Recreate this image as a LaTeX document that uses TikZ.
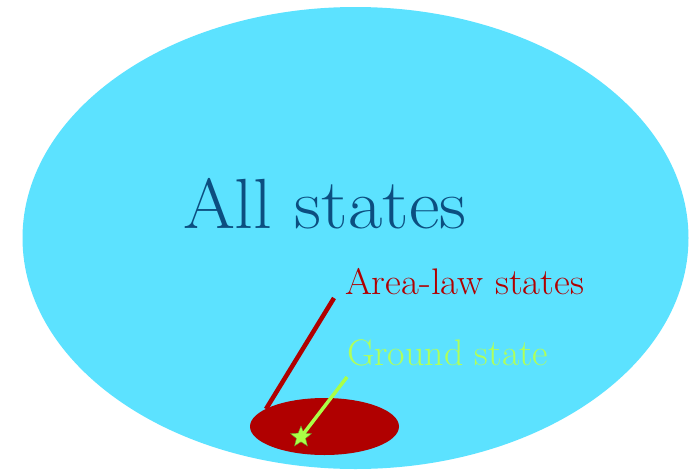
\documentclass[tikz,border=0pt]{standalone}
\usepackage{graphicx}
\usetikzlibrary{shapes.geometric}
\definecolor{bigcyan}{RGB}{92,226,255}
\definecolor{deepblue}{RGB}{12,78,128}
\definecolor{areared}{RGB}{176,0,0}
\definecolor{groundgreen}{RGB}{176,255,90}
\definecolor{stargreen}{RGB}{170,255,70}
\tikzset{
  label text/.style={anchor=base west, inner sep=0pt, outer sep=0pt},
  pointer/.style={line width=4.5pt},
}
\begin{document}
\begin{tikzpicture}[x=1pt,y=-1pt]
\useasboundingbox (0,0) rectangle (691,469);
\fill[white] (0,0) rectangle (691,469);
% all states
\fill[bigcyan] (355.5,238) ellipse [x radius=333, y radius=231];
\node[label text, text=deepblue, font=\fontsize{71}{71}\selectfont] (all) at (183,228) {\scalebox{1.055}[1]{All states}};
% area-law states
\fill[areared] (324.5,426.5) ellipse [x radius=74.5, y radius=28.5];
\coordinate (areaend) at (266,409);
\node[label text, text=areared, font=\fontsize{37}{37}\selectfont] (area) at (345,294) {\scalebox{1.05}[1]{Area-law states}};
\coordinate (areastart) at (334,298);
\draw[pointer, areared] (areastart) -- (areaend);
% ground state
\node[label text, text=groundgreen, font=\fontsize{37}{37}\selectfont] (ground) at (347,365) {\scalebox{1.025}[1]{Ground state}};
\node[star, star points=5, star point ratio=2.3, minimum size=22pt, inner sep=0pt, fill=stargreen, draw=stargreen!60!black, line width=0.4pt] (gs) at (301,437) {};
\coordinate (groundstart) at (347,377);
\draw[line width=3.5pt, stargreen] (groundstart) -- (gs.center);
\end{tikzpicture}
\end{document}
